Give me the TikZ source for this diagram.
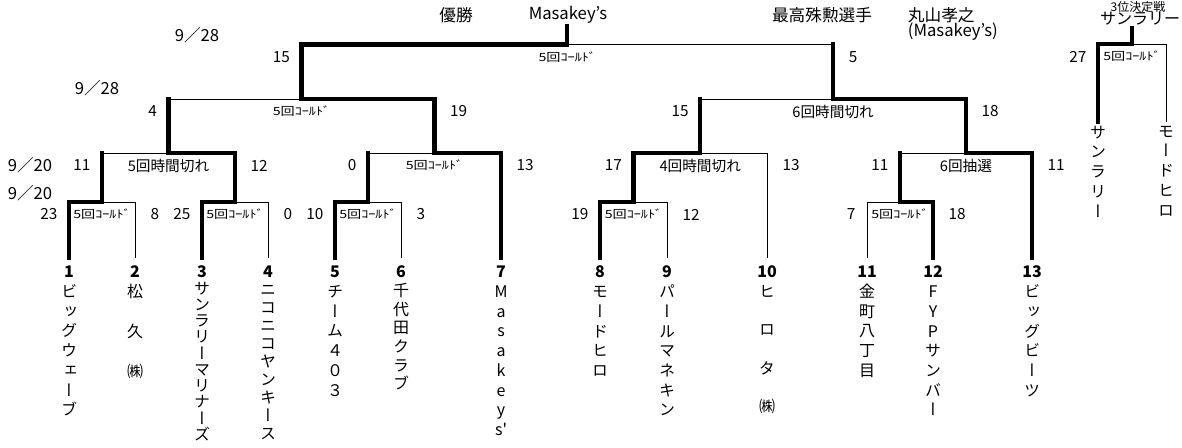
\documentclass[tikz,border=0pt]{standalone}
\usepackage{fontspec}
\setmainfont{Noto Sans CJK JP}
\newfontfamily\tatefont[RawFeature=+vert]{Noto Sans CJK JP}
\usepackage{graphicx}

\newcommand{\kol}{{\fontsize{8.5}{8.5}\selectfont\scalebox{1.25}[1]{5回ｺｰﾙﾄﾞ}}}

\tikzset{
  win/.style={line width=3.2pt, line cap=rect},
  lose/.style={line width=0.7pt},
  team/.style={anchor=north, align=center, inner sep=0pt, outer sep=6pt,
    font={\tatefont\fontsize{12}{#1}\selectfont}},
  team/.default=14.8pt,
  lsc/.style={anchor=east, shift={(-7,12.5)}, font={\fontsize{11.5}{11.5}\selectfont}},
  rsc/.style={anchor=west, shift={(11,12.5)}, font={\fontsize{11.5}{11.5}\selectfont}},
  note/.style={shift={(0,12.5)}, inner sep=1pt, font={\fontsize{11}{11}\selectfont}},
  title/.style={inner sep=2pt, font={\fontsize{12.5}{12.5}\selectfont}},
  date/.style={font={\fontsize{12.5}{12.5}\selectfont}}
}

\begin{document}
\begin{tikzpicture}[x=0.75pt,y=-0.75pt]
\useasboundingbox (0,0) rectangle (1182,448);

% titles
\node[title] (yusho) at (456,15) {優勝};
\node[title] (champ) at (568,15) {Masakey's};
\node[title] (mvp) at (822,15) {最高殊勲選手};
\node[title, anchor=west] (mvpname) at (905,15) {丸山孝之};
\node[title, anchor=west] (mvpteam) at (905,32) {(Masakey's)};
\node[inner sep=0pt, anchor=north, font={\fontsize{9}{9}\selectfont}] (thirdt) at (1138,0.8) {3位決定戦};
\node[title, font={\fontsize{12}{12}\selectfont}] (third) at (1140,19) {サンラリー};

\node[date] (d1) at (197,35) {9／28};
\node[date] (d2) at (97,88) {9／28};
\node[date] (d3) at (30,165) {9／20};
\node[date] (d4) at (30,193) {9／20};

% teams
\node[team] (t1) at (69,258) {{\bfseries 1}\\ビ\\ッ\\グ\\ウ\\ェ\\ー\\ブ};
\node[team] (t2) at (135,258) {{\bfseries 2}\\松\\[15pt]久\\[15pt]㈱};
\node[team=12.2pt] (t3) at (202,258) {{\bfseries 3}\\サ\\ン\\ラ\\リ\\ー\\マ\\リ\\ナ\\ー\\ズ};
\node[team=13.5pt] (t4) at (268,258) {{\bfseries 4}\\ニ\\コ\\ニ\\コ\\ヤ\\ン\\キ\\ー\\ス};
\node[team] (t5) at (335,258) {{\bfseries 5}\\チ\\ー\\ム\\４\\０\\３};
\node[team=14pt] (t6) at (401,258) {{\bfseries 6}\\千\\代\\田\\ク\\ラ\\ブ};
\node[team] (t7) at (501,258) {{\bfseries 7}\\M\\a\\s\\a\\k\\e\\y\\s'};
\node[team] (t8) at (600,258) {{\bfseries 8}\\モ\\ー\\ド\\ヒ\\ロ};
\node[team] (t9) at (667,258) {{\bfseries 9}\\パ\\ー\\ル\\マ\\ネ\\キ\\ン};
\node[team] (t10) at (767,258) {{\bfseries 10}\\ヒ\\[14pt]ロ\\[14pt]タ\\[14pt]㈱};
\node[team] (t11) at (867,258) {{\bfseries 11}\\金\\町\\八\\丁\\目};
\node[team] (t12) at (933,258) {{\bfseries 12}\\F\\Y\\P\\サ\\ン\\バ\\ー};
\node[team] (t13) at (1032,258) {{\bfseries 13}\\ビ\\ッ\\グ\\ビ\\ー\\ツ};

% 1st round
\coordinate (mA) at (102,202);
\coordinate (mB) at (235,202);
\coordinate (mC) at (368,202);
\coordinate (mD) at (633.5,202);
\coordinate (mE) at (900,202);

\draw[win] (t1.north) |- (mA);
\draw[lose] (t2.north) |- (mA);
\node[lsc] (a1) at (t1.north |- mA) {23};
\node[rsc] (a2) at (t2.north |- mA) {8};
\node[note] (an) at (mA) {\kol};

\draw[win] (t3.north) |- (mB);
\draw[lose] (t4.north) |- (mB);
\node[lsc] (b1) at (t3.north |- mB) {25};
\node[rsc] (b2) at (t4.north |- mB) {0};
\node[note] (bn) at (mB) {\kol};

\draw[win] (t5.north) |- (mC);
\draw[lose] (t6.north) |- (mC);
\node[lsc] (c1) at (t5.north |- mC) {10};
\node[rsc] (c2) at (t6.north |- mC) {3};
\node[note] (cn) at (mC) {\kol};

\draw[win] (t8.north) |- (mD);
\draw[lose] (t9.north) |- (mD);
\node[lsc] (e1) at (t8.north |- mD) {19};
\node[rsc] (e2) at (t9.north |- mD) {12};
\node[note] (en) at (mD) {\kol};

\draw[lose] (t11.north) |- (mE);
\draw[win] (t12.north) |- (mE);
\node[lsc] (g1) at (t11.north |- mE) {7};
\node[rsc] (g2) at (t12.north |- mE) {18};
\node[note] (gn) at (mE) {\kol};

% 2nd round
\coordinate (mF) at (168.5,153);
\coordinate (mH) at (434.5,153);
\coordinate (mG) at (700.25,153);
\coordinate (mI) at (966,153);

\draw[win] (mA) -- (mA |- mF);
\draw[lose] (mA |- mF) -- (mF);
\draw[win] (mB) |- (mF);
\node[lsc] (f1) at (mA |- mF) {11};
\node[rsc] (f2) at (mB |- mF) {12};
\node[note] (fn) at (mF) {5回時間切れ};

\draw[win] (mC) -- (mC |- mH);
\draw[lose] (mC |- mH) -- (mH);
\draw[win] (t7.north) |- (mH);
\node[lsc] (h1) at (mC |- mH) {0};
\node[rsc] (h2) at (t7.north |- mH) {13};
\node[note] (hn) at (mH) {\kol};

\draw[win] (mD) |- (mG);
\draw[lose] (t10.north) |- (mG);
\node[lsc] (k1) at (mD |- mG) {17};
\node[rsc] (k2) at (t10.north |- mG) {13};
\node[note] (kn) at (mG) {4回時間切れ};

\draw[win] (mE) -- (mE |- mI);
\draw[lose] (mE |- mI) -- (mI);
\draw[win] (t13.north) |- (mI);
\node[lsc] (i1) at (mE |- mI) {11};
\node[rsc] (i2) at (t13.north |- mI) {11};
\node[note] (in) at (mI) {6回抽選};

% semi final
\coordinate (mJ) at (301.5,99);
\coordinate (mK) at (833.1,99);

\draw[win] (mF) -- (mF |- mJ);
\draw[lose] (mF |- mJ) -- (mJ);
\draw[win] (mH) |- (mJ);
\node[lsc] (j1) at (mF |- mJ) {4};
\node[rsc] (j2) at (mH |- mJ) {19};
\node[note] (jn) at (mJ) {\kol};

\draw[win] (mG) -- (mG |- mK);
\draw[lose] (mG |- mK) -- (mK);
\draw[win] (mI) |- (mK);
\node[lsc] (l1) at (mG |- mK) {15};
\node[rsc] (l2) at (mI |- mK) {18};
\node[note] (ln) at (mK) {6回時間切れ};

% final
\coordinate (mZ) at (567.3,44.5);
\draw[win] (mJ) |- (mZ);
\draw[win] (mK) -- (mK |- mZ);
\draw[lose] (mK |- mZ) -- (mZ);
\draw[win] (mZ) -- (mZ |- champ.south);
\node[lsc] (z1) at (mJ |- mZ) {15};
\node[rsc] (z2) at (mK |- mZ) {5};
\node[note] (zn) at (mZ) {\kol};

% 3rd place
\node[team, outer sep=3pt] (s1) at (1098,122) {サ\\ン\\ラ\\リ\\ー};
\node[team, outer sep=3pt] (s2) at (1166,122) {モ\\ー\\ド\\ヒ\\ロ};
\coordinate (m3) at (1132,44);
\draw[win] (s1.north) |- (m3);
\draw[lose] (s2.north) |- (m3);
\draw[win] (m3) -- (m3 |- third.south);
\node[lsc] (x1) at (s1.north |- m3) {27};
\node[note] (xn) at (m3) {\kol};
\end{tikzpicture}
\end{document}
